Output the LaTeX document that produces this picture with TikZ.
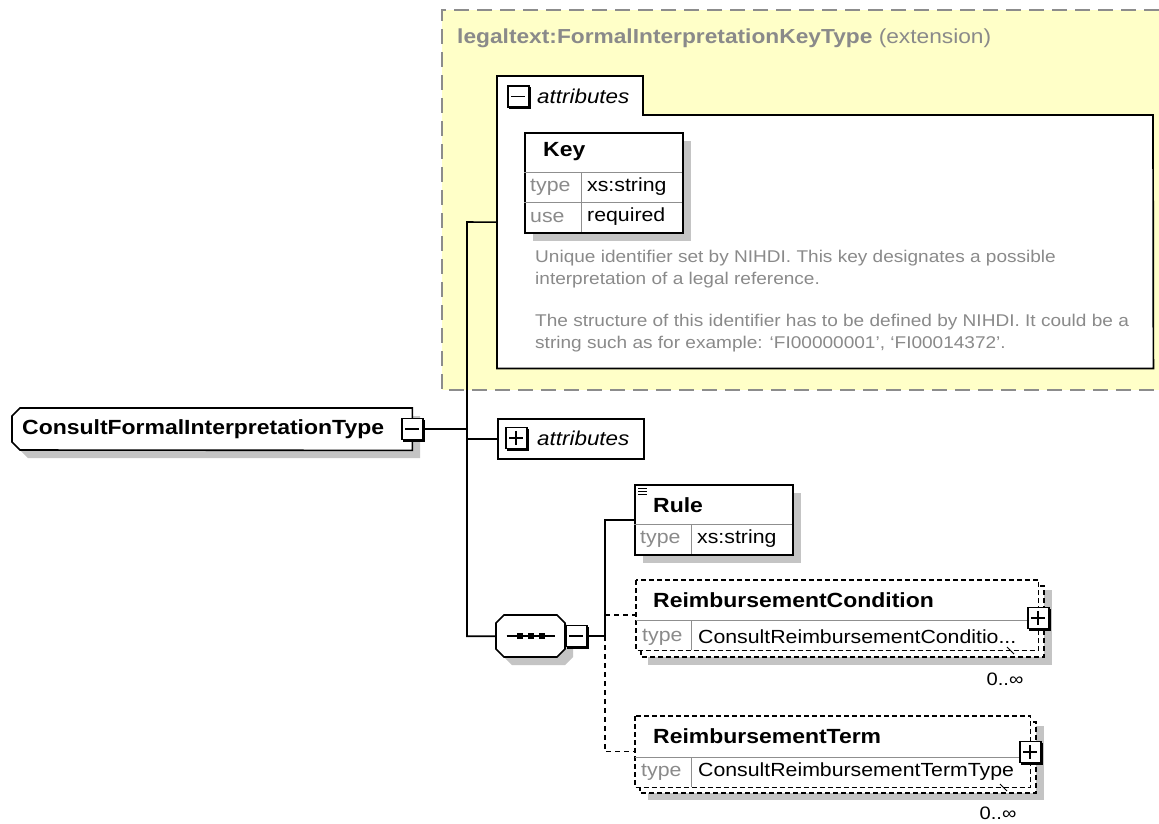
\documentclass[tikz,border=0pt]{standalone}
\usepackage{fontspec}
\setmainfont[FakeStretch=1.12]{Liberation Sans}
\usetikzlibrary{calc}
\definecolor{ybg}{HTML}{FFFFC8}
\definecolor{shd}{HTML}{C4C4C4}
\definecolor{gtxt}{HTML}{8A8A8A}
\definecolor{dashg}{HTML}{8C8C8C}
\definecolor{sepg}{HTML}{8F8F8F}
\newcommand\fsz[1]{\fontsize{#1}{#1}\selectfont}
\newcommand\iconbase[3]{%
  \node[draw=black, fill=white, line width=1.5pt, minimum size=21pt, inner sep=0pt] (#1) at (#2,#3) {};
  \draw[line width=2.6pt] ($(#1.south west)+(2,0.3)$) -- ($(#1.south east)+(0.3,0.3)$) -- ($(#1.north east)+(0.3,2)$);
  \draw[line width=1.4pt] ($(#1.west)+(4,0)$) -- ($(#1.east)+(-4.5,0)$);}
\newcommand\minusicon[3]{\iconbase{#1}{#2}{#3}}
\newcommand\plusicon[3]{\iconbase{#1}{#2}{#3}%
  \draw[line width=1.4pt] ($(#1.north)+(-0.5,4)$) -- ($(#1.south)+(-0.5,-4.5)$);}
\begin{document}
\begin{tikzpicture}[x=1pt,y=-1pt,
  box/.style={draw=black, fill=white, line width=1.6pt, inner sep=0pt, anchor=north west},
  optbox/.style={draw=black, fill=white, line width=1.5pt, dash pattern=on 5pt off 3pt},
  ghost/.style={inner sep=0pt, anchor=north west},
  sep/.style={draw=sepg, line width=1pt},
  conn/.style={draw=black, line width=1.6pt},
  optconn/.style={draw=black, line width=1.5pt, dash pattern=on 5pt off 4pt},
  ename/.style={font=\bfseries\fsz{20.5}, anchor=west, inner sep=0pt},
  tlab/.style={font=\fsz{19}, text=gtxt, anchor=west, inner sep=0pt},
  tval/.style={font=\fsz{19}, anchor=west, inner sep=0pt},
  desc/.style={font=\fsz{17}, text=gtxt, anchor=west, inner sep=0pt},
  occ/.style={font=\fsz{18}, inner sep=0pt},
]
\useasboundingbox (0,0) rectangle (1159,823);
\fill[white] (0,0) rectangle (1159,823);

% extension region
\fill[ybg] (442,10) rectangle (1159,390);
\draw[dashg, line width=2pt, dash pattern=on 15pt off 8pt] (1159,10) -- (442,10) -- (442,390) -- (1159,390);
\node[anchor=west, inner sep=0pt, text=gtxt, font=\fsz{20.3}] (hdr) at (457,38)
  {\textbf{legaltext:FormalInterpretationKeyType} (extension)};

% attributes group (expanded)
\node[ghost, minimum width=656pt, minimum height=292pt] (agrp) at (497,76) {};
\draw[draw=black, fill=white, line width=1.7pt] (agrp.north west) -- (643,76) -- (643,115) -- (1153,115)
  -- (agrp.south east) -- (agrp.south west) -- cycle;
\minusicon{agrpicon}{518.5}{96.5}
\node[anchor=west, inner sep=0pt, font=\itshape\fsz{20}] (agrplbl) at (537,96) {attributes};

% Key attribute
\fill[shd] (533,141) rectangle (691,241);
\node[box, minimum width=158pt, minimum height=100pt] (key) at (524,132) {};
\draw[sep] (524,172) -- (682,172);
\draw[sep] (524,202) -- (682,202);
\draw[sep] (581,172) -- (581,232);
\node[ename] (keyname) at (543,152) {Key};
\node[tlab] (keyt) at (530,187) {type};
\node[tval] (keytv) at (587,187) {xs:string};
\node[tlab] (keyu) at (530,217) {use};
\node[tval] (keyuv) at (587,217) {required};

\node[desc] (d1) at (535,258) {Unique identifier set by NIHDI. This key designates a possible};
\node[desc] (d2) at (535,280) {interpretation of a legal reference.};
\node[desc] (d3) at (535,322) {The structure of this identifier has to be defined by NIHDI. It could be a};
\node[desc] (d4) at (535,344) {string such as for example: ‘FI00000001’, ‘FI00014372’.};

% root complex type
\node[ghost, minimum width=400pt, minimum height=42pt] (root) at (12,408) {};
\fill[shd] (28,416) -- (420,416) -- (420,458) -- (28,458) -- (20,450) -- (20,424) -- cycle;
\draw[draw=black, fill=white, line width=1.6pt] (20,408) -- (root.north east) -- (root.south east) -- (20,450) -- (12,442) -- (12,416) -- cycle;
\node[ename] (roottxt) at (22,429) {ConsultFormalInterpretationType};
\minusicon{rooticon}{412.5}{429}

% attributes (collapsed)
\node[box, minimum width=146pt, minimum height=40pt] (attrs) at (497,418) {};
\plusicon{attrsicon}{516.5}{438}
\node[anchor=west, inner sep=0pt, font=\itshape\fsz{20}] (attrslbl) at (537,438) {attributes};

% sequence compositor
\node[ghost, minimum width=69pt, minimum height=42pt] (seq) at (496,615) {};
\fill[shd] (512,623) -- (565,623) -- (573,631) -- (573,657) -- (565,665) -- (512,665) -- (504,657) -- (504,631) -- cycle;
\draw[draw=black, fill=white, line width=1.6pt] (504,615) -- (557,615) -- (565,623) -- (565,649) -- (557,657) -- (504,657) -- (496,649) -- (496,623) -- cycle;
\draw[line width=1.6pt] ($(seq.center)+(-24,0)$) -- ($(seq.center)+(24,0)$);
\foreach \dx in {-11,0,11} \fill ($(seq.center)+(\dx,0)$) +(-3.2,-3.2) rectangle +(3.2,3.2);
\minusicon{seqicon}{576.5}{636}

% main connectors
\coordinate (j1) at (467,222);
\coordinate (j5) at (605,636);
\draw[conn] (agrp.west) -- (j1) -- (j1 |- seq.west) -- (seq.west);
\draw[conn] (rooticon.east) -- (rooticon.east -| j1);
\draw[conn] (attrs.west) -- (attrs.west -| j1);
\draw[conn] (seqicon.east) -- (j5);

% Rule element
\fill[shd] (643,493) rectangle (801,563);
\node[box, minimum width=158pt, minimum height=70pt] (rule) at (634,484) {};
\draw[sep] (634,524) -- (792,524);
\draw[sep] (691,524) -- (691,554);
\draw[line width=1pt] (638,488) -- (647,488) (638,491) -- (647,491) (638,494) -- (647,494);
\node[ename] (rulename) at (653,505) {Rule};
\node[tlab] (rulet) at (640,539) {type};
\node[tval] (ruletv) at (697,539) {xs:string};
\draw[conn] (j5) |- (rule.west);

% ReimbursementCondition element (optional, repeating)
\fill[shd] (648,590) rectangle (1052,665);
\draw[optbox] (641,586) rectangle (1044,657);
\node[ghost, minimum width=402pt, minimum height=70pt] (cond) at (636,580) {};
\draw[optbox] (cond.north west) rectangle (cond.south east);
\draw[sep] (636,620) -- (1027,620);
\draw[sep] (691,620) -- (691,650);
\node[ename] (condname) at (653,600) {ReimbursementCondition};
\node[tlab] (condt) at (642,637) {type};
\node[tval] (condtv) at (698,637) {ConsultReimbursementConditio...};
\draw[line width=1pt] (1007,647) -- (1014,654);
\plusicon{condicon}{1038.5}{618}
\node[occ] (condocc) at (1005,679) {0..∞};

% ReimbursementTerm element (optional, repeating)
\fill[shd] (648,726) rectangle (1044,800);
\draw[optbox] (640,722) rectangle (1036,793);
\node[ghost, minimum width=395pt, minimum height=71pt] (term) at (635,716) {};
\draw[optbox] (term.north west) rectangle (term.south east);
\draw[sep] (635,757) -- (1019,757);
\draw[sep] (691,757) -- (691,787);
\node[ename] (termname) at (653,736) {ReimbursementTerm};
\node[tlab] (termt) at (641,772) {type};
\node[tval] (termtv) at (698,772) {ConsultReimbursementTermType};
\draw[line width=1pt] (1000,784) -- (1007,791);
\plusicon{termicon}{1030.5}{752}
\node[occ] (termocc) at (998,813) {0..∞};

\draw[optconn] (j5) -- (j5 |- term.west) -- (term.west);
\draw[optconn] (j5 |- cond.west) -- (cond.west);
\end{tikzpicture}
\end{document}
